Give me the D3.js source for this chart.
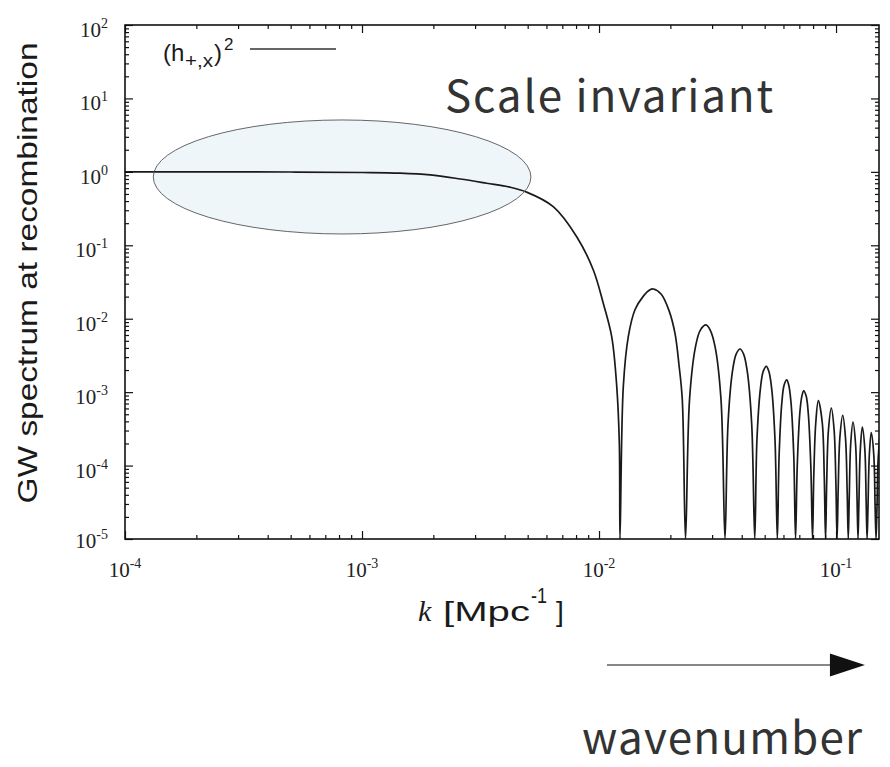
<!DOCTYPE html>
<html><head><meta charset="utf-8">
<script src="https://cdn.jsdelivr.net/npm/d3@7"></script>
<style>
html,body{margin:0;padding:0;background:#fff;}
svg{display:block;}
</style></head>
<body>
<svg id="chart" width="890" height="767"></svg>
<script>
// Wavenumber samples k [Mpc^-1]
const waveK = [
  1e-4, 2e-4, 5e-4, 1e-3, 1.446e-3, 1.936e-3, 2.6e-3, 3.36e-3, 4.2e-3, 4.95e-3, 6.41e-3,
  8.05e-3, 9.46e-3, 0.01042, 0.01131, 0.01188, 0.01218, 0.01226,
  0.01266, 0.01329, 0.01418, 0.01533, 0.01641, 0.01695, 0.01827, 0.01976, 0.02092, 0.02173, 0.02245, 0.02317,
  0.02409, 0.02551, 0.02676, 0.02828, 0.02945, 0.03090, 0.03271, 0.03400,
  0.03501, 0.03654, 0.03789, 0.03934, 0.04074, 0.04223, 0.04407, 0.04540,
  0.04636, 0.04794, 0.04929, 0.05080, 0.05206, 0.05354, 0.05528, 0.05653,
  0.05753, 0.05909, 0.06039, 0.06194, 0.06315, 0.06455, 0.06630, 0.06748,
  0.06861, 0.07034, 0.07179, 0.07306, 0.07477, 0.07634, 0.07826, 0.07958,
  0.08056, 0.08212, 0.08421, 0.08750, 0.08917, 0.09031,
  0.09132, 0.09287, 0.09554, 0.09818, 0.09986, 0.1010,
  0.1021, 0.1038, 0.1067, 0.1096, 0.1114, 0.1126,
  0.1137, 0.1153, 0.1179, 0.1209, 0.1226, 0.1238,
  0.1249, 0.1266, 0.1291, 0.1323, 0.1340, 0.1352,
  0.1364, 0.1382, 0.1408, 0.1443, 0.1462, 0.1475,
  0.1487, 0.1505, 0.1530
];
// GW spectrum at recombination, (h_{+,x})^2
const spectrum = [
  1.0, 1.0, 0.995, 0.98, 0.96, 0.91, 0.80, 0.70, 0.62, 0.53, 0.336,
  0.131, 0.0461, 0.01625, 0.0057, 0.00119, 0.000203, 0,
  0.00119, 0.0057, 0.01324, 0.020, 0.0248, 0.0254, 0.0217, 0.0128, 0.0063, 0.0024, 0.0008, 0,
  0.00079, 0.0041, 0.0070, 0.00822, 0.0070, 0.0041, 0.00079, 0,
  0.00037, 0.0019, 0.0033, 0.00387, 0.0033, 0.0019, 0.00037, 0,
  0.00022, 0.0011, 0.00192, 0.00225, 0.00192, 0.0011, 0.00022, 0,
  0.00014, 0.00073, 0.00125, 0.00147, 0.00125, 0.00073, 0.00014, 0,
  0.0001, 0.00052, 0.00089, 0.00104, 0.00089, 0.00052, 0.0001, 0,
  0.000073, 0.00038, 0.000766, 0.00038, 0.000073, 0,
  0.000058, 0.0003, 0.000604, 0.0003, 0.000058, 0,
  0.000046, 0.00024, 0.000482, 0.00024, 0.000046, 0,
  0.000037, 0.000195, 0.00039, 0.000195, 0.000037, 0,
  0.000032, 0.000165, 0.000333, 0.000165, 0.000032, 0,
  0.000027, 0.00014, 0.000281, 0.00014, 0.000027, 0,
  0.000023, 0.00012, 0.00024
];

// Axis ticks and their labels (10^exponent)
const xTickValues = [1e-4, 1e-3, 1e-2, 1e-1];
const xTickExponents = ["-4", "-3", "-2", "-1"];
const yTickValues = [1e2, 1e1, 1e0, 1e-1, 1e-2, 1e-3, 1e-4, 1e-5];
const yTickExponents = ["2", "1", "0", "-1", "-2", "-3", "-4", "-5"];

// Highlighted scale-invariant plateau (k range, spectrum range)
const plateauK = [1.316e-4, 5.16e-3];
const plateauV = [0.1426, 5.09];
// Wavenumber arrow span
const arrowK = [0.0108, 0.1324];

// ---- layout ----
const L = 125, R = 879, T = 25, B = 539;
const svg = d3.select("#chart");

const x = d3.scaleLog().domain([1e-4, 0.1518]).range([L, R]);
const y = d3.scaleLog().domain([1e-5, 1e2]).range([B, T]).clamp(true);

// minor tick positions: 2..9 within each decade
function minorTicks(lo, hi, domain) {
  const out = [];
  for (let e = lo; e <= hi; e++)
    for (let m = 2; m <= 9; m++) {
      const v = m * Math.pow(10, e);
      if (v > domain[0] && v < domain[1]) out.push(v);
    }
  return out;
}
const xMinor = minorTicks(-4, -1, x.domain());
const yMinor = minorTicks(-5, 1, y.domain());

svg.append("defs").append("clipPath").attr("id", "plotClip")
  .append("rect").attr("x", L).attr("y", T).attr("width", R - L).attr("height", B - T);

// ---- highlighted plateau (fill below the curve) ----
const ex0 = x(plateauK[0]), ex1 = x(plateauK[1]);
const ey0 = y(plateauV[1]), ey1 = y(plateauV[0]);
const ell = {cx: (ex0 + ex1) / 2, cy: (ey0 + ey1) / 2, rx: (ex1 - ex0) / 2, ry: (ey1 - ey0) / 2};
svg.append("ellipse")
  .attr("cx", ell.cx).attr("cy", ell.cy).attr("rx", ell.rx).attr("ry", ell.ry)
  .attr("fill", "#eff6fa").attr("stroke", "none");

// ---- spectrum curve ----
const pts = waveK.map((k, i) => ({k, v: spectrum[i]}));
const line = d3.line()
  .x(d => x(d.k))
  .y(d => y(d.v))
  .curve(d3.curveCatmullRom.alpha(0.5));

svg.append("path")
  .attr("clip-path", "url(#plotClip)")
  .attr("d", line(pts))
  .attr("fill", "none")
  .attr("stroke", "#1a1a1a")
  .attr("stroke-width", 1.7)
  .attr("stroke-linejoin", "round");

svg.append("ellipse")
  .attr("cx", ell.cx).attr("cy", ell.cy).attr("rx", ell.rx).attr("ry", ell.ry)
  .attr("fill", "none").attr("stroke", "#555").attr("stroke-width", 0.9);

// ---- axes: inward ticks on all four sides ----
function drawAxis(axisGen, tx, ty) {
  const g = svg.append("g").attr("transform", `translate(${tx},${ty})`).call(axisGen);
  g.select(".domain").remove();
  g.selectAll("line").attr("stroke", "#111").attr("stroke-width", 1.2);
  g.selectAll("text").remove();
}
const majorLen = 8, minorLen = 4;
drawAxis(d3.axisBottom(x).tickValues(xMinor).tickSizeInner(-minorLen).tickSizeOuter(0), 0, B);
drawAxis(d3.axisBottom(x).tickValues(xTickValues).tickSizeInner(-majorLen).tickSizeOuter(0), 0, B);
drawAxis(d3.axisTop(x).tickValues(xMinor).tickSizeInner(-minorLen).tickSizeOuter(0), 0, T);
drawAxis(d3.axisTop(x).tickValues(xTickValues).tickSizeInner(-majorLen).tickSizeOuter(0), 0, T);
drawAxis(d3.axisLeft(y).tickValues(yMinor).tickSizeInner(-minorLen).tickSizeOuter(0), L, 0);
drawAxis(d3.axisLeft(y).tickValues(yTickValues).tickSizeInner(-majorLen).tickSizeOuter(0), L, 0);
drawAxis(d3.axisRight(y).tickValues(yMinor).tickSizeInner(-minorLen).tickSizeOuter(0), R, 0);
drawAxis(d3.axisRight(y).tickValues(yTickValues).tickSizeInner(-majorLen).tickSizeOuter(0), R, 0);

svg.append("rect")
  .attr("x", L).attr("y", T).attr("width", R - L).attr("height", B - T)
  .attr("fill", "none").attr("stroke", "#111").attr("stroke-width", 1.6);

// tick labels 10^n
const serif = "'Liberation Serif', 'Times New Roman', serif";
xTickValues.forEach((v, i) => {
  const t = svg.append("text")
    .attr("x", x(v)).attr("y", B + 38)
    .attr("text-anchor", "middle")
    .attr("font-family", serif).attr("font-size", 21).attr("fill", "#222");
  t.append("tspan").text("10");
  t.append("tspan").attr("dy", -9).attr("font-size", 14).text(xTickExponents[i]);
});
yTickValues.forEach((v, i) => {
  const t = svg.append("text")
    .attr("x", L - 17).attr("y", y(v) + (v === 1e-5 ? 9 : 12))
    .attr("text-anchor", "end")
    .attr("font-family", serif).attr("font-size", 21).attr("fill", "#222");
  t.append("tspan").text("10");
  t.append("tspan").attr("dy", -9).attr("font-size", 14).text(yTickExponents[i]);
});

// ---- axis titles ----
const sans = "'Liberation Sans', Arial, Helvetica, sans-serif";
svg.append("text")
  .attr("transform", "translate(37,273) rotate(-90)")
  .attr("text-anchor", "middle")
  .attr("font-family", sans).attr("font-size", 28).attr("fill", "#1a1a1a")
  .attr("textLength", 461).attr("lengthAdjust", "spacingAndGlyphs")
  .text("GW spectrum at recombination");

const xl = svg.append("g").attr("fill", "#1a1a1a");
xl.append("text").attr("x", 418).attr("y", 621)
  .attr("font-family", serif).attr("font-style", "italic").attr("font-size", 30).text("k");
xl.append("text").attr("x", 443).attr("y", 621)
  .attr("font-family", sans).attr("font-size", 28)
  .attr("textLength", 87).attr("lengthAdjust", "spacingAndGlyphs").text("[Mpc");
xl.append("text").attr("x", 531).attr("y", 603)
  .attr("font-family", sans).attr("font-size", 22)
  .attr("textLength", 16).attr("lengthAdjust", "spacingAndGlyphs").text("-1");
xl.append("text").attr("x", 556).attr("y", 621)
  .attr("font-family", sans).attr("font-size", 28).text("]");

// ---- legend ----
const lg = svg.append("g").attr("fill", "#1a1a1a").attr("font-family", sans);
lg.append("text").attr("x", 163).attr("y", 61).attr("font-size", 24).text("(h");
lg.append("text").attr("x", 185).attr("y", 67).attr("font-size", 18)
  .attr("textLength", 28).attr("lengthAdjust", "spacingAndGlyphs").text("+,x");
lg.append("text").attr("x", 214).attr("y", 61).attr("font-size", 24).text(")");
lg.append("text").attr("x", 224).attr("y", 50).attr("font-size", 17).text("2");
svg.append("line").attr("x1", 250).attr("x2", 336).attr("y1", 49).attr("y2", 49)
  .attr("stroke", "#333").attr("stroke-width", 1.5);

// ---- annotations ----
const jp = "'Noto Sans CJK JP', 'Noto Sans', sans-serif";
svg.append("text").attr("x", 445).attr("y", 112)
  .attr("font-family", jp).attr("font-size", 44).attr("fill", "#333")
  .attr("textLength", 328).attr("lengthAdjust", "spacing")
  .text("Scale invariant");

const ay = 665, ax0 = x(arrowK[0]), ax1 = x(arrowK[1]);
svg.append("line").attr("x1", ax0).attr("x2", ax1 - 30).attr("y1", ay).attr("y2", ay)
  .attr("stroke", "#111").attr("stroke-width", 1.2);
svg.append("path")
  .attr("d", `M${ax1},${ay} L${ax1 - 35},${ay - 11.5} L${ax1 - 35},${ay + 11.5} Z`)
  .attr("fill", "#111");

svg.append("text").attr("x", 582).attr("y", 754)
  .attr("font-family", jp).attr("font-size", 44).attr("fill", "#333")
  .attr("textLength", 280).attr("lengthAdjust", "spacing")
  .text("wavenumber");
</script>
</body></html>
